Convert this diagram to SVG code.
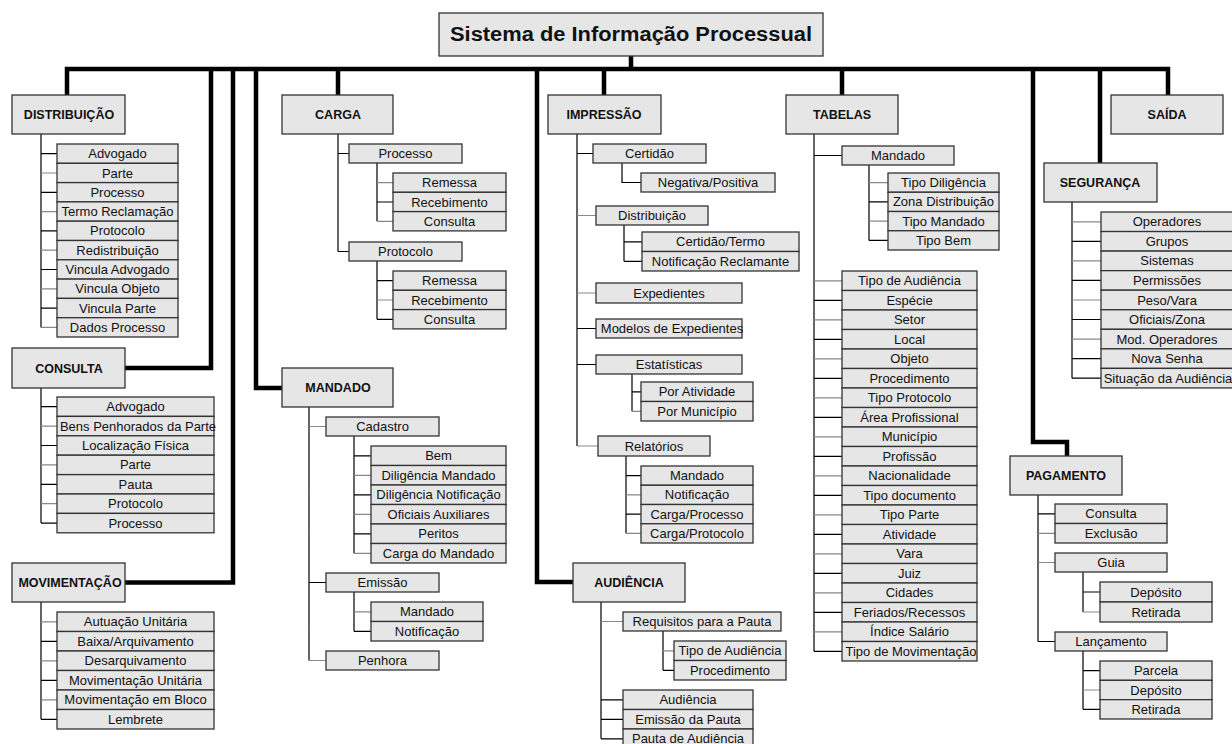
<svg xmlns="http://www.w3.org/2000/svg" width="1232" height="744" viewBox="0 0 1232 744">
<style>
  .bg{fill:#fff}
  rect.b{fill:#e6e6e6;stroke:#333;stroke-width:1.3}
  .h{font-family:"Liberation Sans",Arial,sans-serif;font-weight:bold;font-size:12.5px;text-anchor:middle;fill:#111}
  .t{font-family:"Liberation Sans",Arial,sans-serif;font-size:13px;text-anchor:middle;fill:#111}
  .title{font-family:"Liberation Sans",Arial,sans-serif;font-weight:bold;font-size:20px;text-anchor:middle;fill:#111}
  .bus{fill:none;stroke:#000;stroke-width:4.5;stroke-linejoin:miter}
  .lk{fill:none;stroke:#000;stroke-width:1.2}
  .lg{fill:none;stroke:#888;stroke-width:1.2}
</style>
<rect class="bg" x="0" y="0" width="1232" height="744"/>

<!-- connectors -->
<g id="connectors">
  <path class="bus" d="M631,56V69 M67,95V69H1168V95 M211,69V368H125 M233,69V582.5H125 M256,69V388H282 M338,69V95 M537,69V582H573 M604,69V95 M842,69V95 M1033,69V442H1067V456 M1100,69V163"/>
  <path class="lk" d="
    M41,134V327.4 M41,153.7H57 M41,192.3H57 M41,230.9H57 M41,269.5H57 M41,308.1H57
    M41,388V523.1 M41,406.7H57 M41,445.5H57 M41,484.3H57 M41,523.1H57
    M41,602V719.3 M41,641.3H57 M41,680.3H57 M41,719.3H57
    M338,134V251.5 M338,153.5H349 M338,251.5H349
    M377,163V221.3 M377,202H393
    M377,261V319.3 M377,280.7H393 M377,319.3H393
    M309,407V660.5 M309,582.5H326
    M354,436V553.3 M354,455.8H371 M354,494.8H371 M354,533.8H371
    M354,592V631.3 M354,631.3H371
    M577,134V446 M577,153.5H593 M577,328.5H596 M577,364.5H596
    M622,163V182.5H641
    M624,225V261.3 M624,241.8H642 M624,261.3H642
    M632,374V411.3 M632,391.8H641
    M626,456V533.4 M626,475.6H641 M626,514.1H641
    M601,602V738.8 M601,699.8H623 M601,719.3H623 M601,738.8H623
    M663,631V670.3 M663,670.3H674
    M814,134V651.3 M814,155.5H842 M814,300.3H842 M814,339.3H842 M814,378.3H842 M814,417.3H842 M814,456.3H842 M814,495.3H842 M814,534.3H842 M814,573.3H842 M814,612.3H842 M814,651.3H842
    M869,165V240.4 M869,201.9H888 M869,240.4H888
    M1072,202V378.2 M1072,241.3H1101 M1072,280.4H1101 M1072,319.5H1101 M1072,358.6H1101 M1072,378.2H1101
    M1038,495V641.5 M1038,513.8H1055 M1038,641.5H1055
    M1083,572V612 M1083,592H1100
    M1083,651V709.3 M1083,670.7H1100 M1083,709.3H1100"/>
  <path class="lg" d="
    M41,173H57 M41,211.6H57 M41,250.2H57 M41,288.8H57 M41,327.4H57
    M41,426.1H57 M41,464.9H57 M41,503.7H57
    M41,621.8H57 M41,660.8H57 M41,699.8H57
    M377,182.7H393 M377,221.3H393
    M377,300H393
    M309,426.5H326 M309,660.5H326
    M354,475.3H371 M354,514.3H371 M354,553.3H371
    M354,611.8H371
    M577,215.5H596 M577,293H596 M577,446H598
    M632,411.3H641
    M626,494.9H641 M626,533.4H641
    M601,621.5H623
    M663,650.8H674
    M814,280.8H842 M814,319.8H842 M814,358.8H842 M814,397.8H842 M814,436.8H842 M814,475.8H842 M814,514.8H842 M814,553.8H842 M814,592.8H842 M814,631.8H842
    M869,182.6H888 M869,221.1H888
    M1072,221.8H1101 M1072,260.9H1101 M1072,300H1101 M1072,339.1H1101
    M1038,533.3H1055 M1038,562.5H1055
    M1083,612H1100
    M1083,690H1100"/>
</g>

<!-- root -->
<g id="n-root"><rect class="b" x="439" y="13" width="384" height="43"/><text class="title" x="631" y="41" textLength="362" lengthAdjust="spacingAndGlyphs">Sistema de Informação Processual</text></g>

<!-- top-level modules -->
<g id="n-distribuicao"><rect class="b" x="12" y="95" width="113" height="39"/><text class="h" x="69" y="119">DISTRIBUIÇÃO</text></g>
<g id="n-consulta"><rect class="b" x="12" y="348" width="113" height="40"/><text class="h" x="69" y="372.5">CONSULTA</text></g>
<g id="n-movimentacao"><rect class="b" x="12" y="563" width="113" height="39"/><text class="h" x="70" y="587">MOVIMENTAÇÃO</text></g>
<g id="n-carga"><rect class="b" x="282" y="95" width="111" height="39"/><text class="h" x="338" y="119">CARGA</text></g>
<g id="n-mandado"><rect class="b" x="282" y="368" width="111" height="39"/><text class="h" x="338" y="392">MANDADO</text></g>
<g id="n-impressao"><rect class="b" x="548" y="95" width="113" height="39"/><text class="h" x="604" y="119">IMPRESSÃO</text></g>
<g id="n-audiencia"><rect class="b" x="573" y="563" width="112" height="39"/><text class="h" x="629" y="587">AUDIÊNCIA</text></g>
<g id="n-tabelas"><rect class="b" x="786" y="95" width="112" height="39"/><text class="h" x="842" y="119">TABELAS</text></g>
<g id="n-seguranca"><rect class="b" x="1044" y="163" width="113" height="39"/><text class="h" x="1100" y="187">SEGURANÇA</text></g>
<g id="n-saida"><rect class="b" x="1111" y="95" width="112" height="39"/><text class="h" x="1167" y="119">SAÍDA</text></g>
<g id="n-pagamento"><rect class="b" x="1010" y="456" width="112" height="39"/><text class="h" x="1066" y="480">PAGAMENTO</text></g>

<!-- DISTRIBUIÇÃO items -->
<g id="n-dist-advogado"><rect class="b" x="57" y="144" width="121" height="19.3"/><text class="t" x="117.5" y="158.2">Advogado</text></g>
<g id="n-dist-parte"><rect class="b" x="57" y="163.3" width="121" height="19.3"/><text class="t" x="117.5" y="177.5">Parte</text></g>
<g id="n-dist-processo"><rect class="b" x="57" y="182.6" width="121" height="19.3"/><text class="t" x="117.5" y="196.8">Processo</text></g>
<g id="n-dist-termo"><rect class="b" x="57" y="201.9" width="121" height="19.3"/><text class="t" x="117.5" y="216.1">Termo Reclamação</text></g>
<g id="n-dist-protocolo"><rect class="b" x="57" y="221.2" width="121" height="19.3"/><text class="t" x="117.5" y="235.4">Protocolo</text></g>
<g id="n-dist-redistribuicao"><rect class="b" x="57" y="240.5" width="121" height="19.3"/><text class="t" x="117.5" y="254.7">Redistribuição</text></g>
<g id="n-dist-vinc-advogado"><rect class="b" x="57" y="259.8" width="121" height="19.3"/><text class="t" x="117.5" y="274">Vincula Advogado</text></g>
<g id="n-dist-vinc-objeto"><rect class="b" x="57" y="279.1" width="121" height="19.3"/><text class="t" x="117.5" y="293.3">Vincula Objeto</text></g>
<g id="n-dist-vinc-parte"><rect class="b" x="57" y="298.4" width="121" height="19.3"/><text class="t" x="117.5" y="312.6">Vincula Parte</text></g>
<g id="n-dist-dados"><rect class="b" x="57" y="317.7" width="121" height="19.3"/><text class="t" x="117.5" y="331.9">Dados Processo</text></g>

<!-- CONSULTA items -->
<g id="n-cons-advogado"><rect class="b" x="57" y="397" width="157" height="19.4"/><text class="t" x="135.5" y="411.2">Advogado</text></g>
<g id="n-cons-bens"><rect class="b" x="57" y="416.4" width="157" height="19.4"/><text class="t" x="138" y="430.6">Bens Penhorados da Parte</text></g>
<g id="n-cons-localizacao"><rect class="b" x="57" y="435.8" width="157" height="19.4"/><text class="t" x="135.5" y="450">Localização Física</text></g>
<g id="n-cons-parte"><rect class="b" x="57" y="455.2" width="157" height="19.4"/><text class="t" x="135.5" y="469.4">Parte</text></g>
<g id="n-cons-pauta"><rect class="b" x="57" y="474.6" width="157" height="19.4"/><text class="t" x="135.5" y="488.8">Pauta</text></g>
<g id="n-cons-protocolo"><rect class="b" x="57" y="494" width="157" height="19.4"/><text class="t" x="135.5" y="508.2">Protocolo</text></g>
<g id="n-cons-processo"><rect class="b" x="57" y="513.4" width="157" height="19.4"/><text class="t" x="135.5" y="527.6">Processo</text></g>

<!-- MOVIMENTAÇÃO items -->
<g id="n-mov-autuacao"><rect class="b" x="57" y="612" width="157" height="19.5"/><text class="t" x="135.5" y="626.3">Autuação Unitária</text></g>
<g id="n-mov-baixa"><rect class="b" x="57" y="631.5" width="157" height="19.5"/><text class="t" x="135.5" y="645.8">Baixa/Arquivamento</text></g>
<g id="n-mov-desarq"><rect class="b" x="57" y="651" width="157" height="19.5"/><text class="t" x="135.5" y="665.3">Desarquivamento</text></g>
<g id="n-mov-unitaria"><rect class="b" x="57" y="670.5" width="157" height="19.5"/><text class="t" x="135.5" y="684.8">Movimentação Unitária</text></g>
<g id="n-mov-bloco"><rect class="b" x="57" y="690" width="157" height="19.5"/><text class="t" x="135.5" y="704.3">Movimentação em Bloco</text></g>
<g id="n-mov-lembrete"><rect class="b" x="57" y="709.5" width="157" height="19.5"/><text class="t" x="135.5" y="723.8">Lembrete</text></g>

<!-- CARGA items -->
<g id="n-carga-processo"><rect class="b" x="349" y="144" width="113" height="19"/><text class="t" x="405.5" y="158">Processo</text></g>
<g id="n-carga-proc-remessa"><rect class="b" x="393" y="173" width="113" height="19.3"/><text class="t" x="449.5" y="187.2">Remessa</text></g>
<g id="n-carga-proc-recebimento"><rect class="b" x="393" y="192.3" width="113" height="19.3"/><text class="t" x="449.5" y="206.5">Recebimento</text></g>
<g id="n-carga-proc-consulta"><rect class="b" x="393" y="211.6" width="113" height="19.3"/><text class="t" x="449.5" y="225.8">Consulta</text></g>
<g id="n-carga-protocolo"><rect class="b" x="349" y="242" width="113" height="19"/><text class="t" x="405.5" y="256">Protocolo</text></g>
<g id="n-carga-prot-remessa"><rect class="b" x="393" y="271" width="113" height="19.3"/><text class="t" x="449.5" y="285.2">Remessa</text></g>
<g id="n-carga-prot-recebimento"><rect class="b" x="393" y="290.3" width="113" height="19.3"/><text class="t" x="449.5" y="304.5">Recebimento</text></g>
<g id="n-carga-prot-consulta"><rect class="b" x="393" y="309.6" width="113" height="19.3"/><text class="t" x="449.5" y="323.8">Consulta</text></g>

<!-- MANDADO items -->
<g id="n-mand-cadastro"><rect class="b" x="326" y="417" width="113" height="19"/><text class="t" x="382.5" y="431">Cadastro</text></g>
<g id="n-mand-cad-bem"><rect class="b" x="371" y="446" width="135" height="19.5"/><text class="t" x="438.5" y="460.3">Bem</text></g>
<g id="n-mand-cad-dilig-mand"><rect class="b" x="371" y="465.5" width="135" height="19.5"/><text class="t" x="438.5" y="479.8">Diligência Mandado</text></g>
<g id="n-mand-cad-dilig-notif"><rect class="b" x="371" y="485" width="135" height="19.5"/><text class="t" x="438.5" y="499.3">Diligência Notificação</text></g>
<g id="n-mand-cad-oficiais"><rect class="b" x="371" y="504.5" width="135" height="19.5"/><text class="t" x="438.5" y="518.8">Oficiais Auxiliares</text></g>
<g id="n-mand-cad-peritos"><rect class="b" x="371" y="524" width="135" height="19.5"/><text class="t" x="438.5" y="538.3">Peritos</text></g>
<g id="n-mand-cad-carga"><rect class="b" x="371" y="543.5" width="135" height="19.5"/><text class="t" x="438.5" y="557.8">Carga do Mandado</text></g>
<g id="n-mand-emissao"><rect class="b" x="326" y="573" width="113" height="19"/><text class="t" x="382.5" y="587">Emissão</text></g>
<g id="n-mand-em-mandado"><rect class="b" x="371" y="602" width="112" height="19.5"/><text class="t" x="427" y="616.3">Mandado</text></g>
<g id="n-mand-em-notificacao"><rect class="b" x="371" y="621.5" width="112" height="19.5"/><text class="t" x="427" y="635.8">Notificação</text></g>
<g id="n-mand-penhora"><rect class="b" x="326" y="651" width="113" height="19"/><text class="t" x="382.5" y="665">Penhora</text></g>

<!-- IMPRESSÃO items -->
<g id="n-imp-certidao"><rect class="b" x="593" y="144" width="113" height="19"/><text class="t" x="649.5" y="158">Certidão</text></g>
<g id="n-imp-negativa"><rect class="b" x="641" y="173" width="134" height="19"/><text class="t" x="708" y="187">Negativa/Positiva</text></g>
<g id="n-imp-distribuicao"><rect class="b" x="596" y="206" width="112" height="19"/><text class="t" x="652" y="220">Distribuição</text></g>
<g id="n-imp-certidao-termo"><rect class="b" x="642" y="232" width="157" height="19.5"/><text class="t" x="720.5" y="246.3">Certidão/Termo</text></g>
<g id="n-imp-notif-reclamante"><rect class="b" x="642" y="251.5" width="157" height="19.5"/><text class="t" x="720.5" y="265.8">Notificação Reclamante</text></g>
<g id="n-imp-expedientes"><rect class="b" x="596" y="283" width="146" height="20"/><text class="t" x="669" y="297.5">Expedientes</text></g>
<g id="n-imp-modelos"><rect class="b" x="596" y="319" width="146" height="19"/><text class="t" x="672" y="333">Modelos de Expedientes</text></g>
<g id="n-imp-estatisticas"><rect class="b" x="596" y="355" width="146" height="19"/><text class="t" x="669" y="369">Estatísticas</text></g>
<g id="n-imp-por-atividade"><rect class="b" x="641" y="382" width="112" height="19.5"/><text class="t" x="697" y="396.3">Por Atividade</text></g>
<g id="n-imp-por-municipio"><rect class="b" x="641" y="401.5" width="112" height="19.5"/><text class="t" x="697" y="415.8">Por Município</text></g>
<g id="n-imp-relatorios"><rect class="b" x="598" y="436" width="112" height="20"/><text class="t" x="654" y="450.5">Relatórios</text></g>
<g id="n-imp-rel-mandado"><rect class="b" x="641" y="466" width="112" height="19.25"/><text class="t" x="697" y="480.1">Mandado</text></g>
<g id="n-imp-rel-notificacao"><rect class="b" x="641" y="485.25" width="112" height="19.25"/><text class="t" x="697" y="499.4">Notificação</text></g>
<g id="n-imp-rel-carga-proc"><rect class="b" x="641" y="504.5" width="112" height="19.25"/><text class="t" x="697" y="518.6">Carga/Processo</text></g>
<g id="n-imp-rel-carga-prot"><rect class="b" x="641" y="523.75" width="112" height="19.25"/><text class="t" x="697" y="537.9">Carga/Protocolo</text></g>

<!-- AUDIÊNCIA items -->
<g id="n-aud-requisitos"><rect class="b" x="623" y="612" width="158" height="19"/><text class="t" x="702" y="626">Requisitos para a Pauta</text></g>
<g id="n-aud-req-tipo"><rect class="b" x="674" y="641" width="112" height="19.5"/><text class="t" x="730" y="655.3">Tipo de Audiência</text></g>
<g id="n-aud-req-procedimento"><rect class="b" x="674" y="660.5" width="112" height="19.5"/><text class="t" x="730" y="674.8">Procedimento</text></g>
<g id="n-aud-audiencia"><rect class="b" x="623" y="690" width="130" height="19.5"/><text class="t" x="688" y="704.3">Audiência</text></g>
<g id="n-aud-emissao"><rect class="b" x="623" y="709.5" width="130" height="19.5"/><text class="t" x="688" y="723.8">Emissão da Pauta</text></g>
<g id="n-aud-pauta"><rect class="b" x="623" y="729" width="130" height="19.5"/><text class="t" x="688" y="742.8">Pauta de Audiência</text></g>

<!-- TABELAS items -->
<g id="n-tab-mandado"><rect class="b" x="842" y="146" width="112" height="19"/><text class="t" x="898" y="160">Mandado</text></g>
<g id="n-tab-m-diligencia"><rect class="b" x="888" y="173" width="111" height="19.25"/><text class="t" x="943.5" y="187.1">Tipo Diligência</text></g>
<g id="n-tab-m-zona"><rect class="b" x="888" y="192.25" width="111" height="19.25"/><text class="t" x="943.5" y="206.4">Zona Distribuição</text></g>
<g id="n-tab-m-tipo-mandado"><rect class="b" x="888" y="211.5" width="111" height="19.25"/><text class="t" x="943.5" y="225.6">Tipo Mandado</text></g>
<g id="n-tab-m-tipo-bem"><rect class="b" x="888" y="230.75" width="111" height="19.25"/><text class="t" x="943.5" y="244.9">Tipo Bem</text></g>
<g id="n-tab-tipo-audiencia"><rect class="b" x="842" y="271" width="135" height="19.5"/><text class="t" x="909.5" y="285.3">Tipo de Audiência</text></g>
<g id="n-tab-especie"><rect class="b" x="842" y="290.5" width="135" height="19.5"/><text class="t" x="909.5" y="304.8">Espécie</text></g>
<g id="n-tab-setor"><rect class="b" x="842" y="310" width="135" height="19.5"/><text class="t" x="909.5" y="324.3">Setor</text></g>
<g id="n-tab-local"><rect class="b" x="842" y="329.5" width="135" height="19.5"/><text class="t" x="909.5" y="343.8">Local</text></g>
<g id="n-tab-objeto"><rect class="b" x="842" y="349" width="135" height="19.5"/><text class="t" x="909.5" y="363.3">Objeto</text></g>
<g id="n-tab-procedimento"><rect class="b" x="842" y="368.5" width="135" height="19.5"/><text class="t" x="909.5" y="382.8">Procedimento</text></g>
<g id="n-tab-tipo-protocolo"><rect class="b" x="842" y="388" width="135" height="19.5"/><text class="t" x="909.5" y="402.3">Tipo Protocolo</text></g>
<g id="n-tab-area"><rect class="b" x="842" y="407.5" width="135" height="19.5"/><text class="t" x="909.5" y="421.8">Área Profissional</text></g>
<g id="n-tab-municipio"><rect class="b" x="842" y="427" width="135" height="19.5"/><text class="t" x="909.5" y="441.3">Município</text></g>
<g id="n-tab-profissao"><rect class="b" x="842" y="446.5" width="135" height="19.5"/><text class="t" x="909.5" y="460.8">Profissão</text></g>
<g id="n-tab-nacionalidade"><rect class="b" x="842" y="466" width="135" height="19.5"/><text class="t" x="909.5" y="480.3">Nacionalidade</text></g>
<g id="n-tab-tipo-documento"><rect class="b" x="842" y="485.5" width="135" height="19.5"/><text class="t" x="909.5" y="499.8">Tipo documento</text></g>
<g id="n-tab-tipo-parte"><rect class="b" x="842" y="505" width="135" height="19.5"/><text class="t" x="909.5" y="519.3">Tipo Parte</text></g>
<g id="n-tab-atividade"><rect class="b" x="842" y="524.5" width="135" height="19.5"/><text class="t" x="909.5" y="538.8">Atividade</text></g>
<g id="n-tab-vara"><rect class="b" x="842" y="544" width="135" height="19.5"/><text class="t" x="909.5" y="558.3">Vara</text></g>
<g id="n-tab-juiz"><rect class="b" x="842" y="563.5" width="135" height="19.5"/><text class="t" x="909.5" y="577.8">Juiz</text></g>
<g id="n-tab-cidades"><rect class="b" x="842" y="583" width="135" height="19.5"/><text class="t" x="909.5" y="597.3">Cidades</text></g>
<g id="n-tab-feriados"><rect class="b" x="842" y="602.5" width="135" height="19.5"/><text class="t" x="909.5" y="616.8">Feriados/Recessos</text></g>
<g id="n-tab-indice"><rect class="b" x="842" y="622" width="135" height="19.5"/><text class="t" x="909.5" y="636.3">Índice Salário</text></g>
<g id="n-tab-tipo-mov"><rect class="b" x="842" y="641.5" width="135" height="19.5"/><text class="t" x="911" y="655.8">Tipo de Movimentação</text></g>

<!-- SEGURANÇA items -->
<g id="n-seg-operadores"><rect class="b" x="1101" y="212" width="132" height="19.55"/><text class="t" x="1167" y="226.3">Operadores</text></g>
<g id="n-seg-grupos"><rect class="b" x="1101" y="231.55" width="132" height="19.55"/><text class="t" x="1167" y="245.8">Grupos</text></g>
<g id="n-seg-sistemas"><rect class="b" x="1101" y="251.1" width="132" height="19.55"/><text class="t" x="1167" y="265.4">Sistemas</text></g>
<g id="n-seg-permissoes"><rect class="b" x="1101" y="270.65" width="132" height="19.55"/><text class="t" x="1167" y="284.9">Permissões</text></g>
<g id="n-seg-peso-vara"><rect class="b" x="1101" y="290.2" width="132" height="19.55"/><text class="t" x="1167" y="304.5">Peso/Vara</text></g>
<g id="n-seg-oficiais"><rect class="b" x="1101" y="309.75" width="132" height="19.55"/><text class="t" x="1167" y="324">Oficiais/Zona</text></g>
<g id="n-seg-mod-operadores"><rect class="b" x="1101" y="329.3" width="132" height="19.55"/><text class="t" x="1167" y="343.6">Mod. Operadores</text></g>
<g id="n-seg-nova-senha"><rect class="b" x="1101" y="348.85" width="132" height="19.55"/><text class="t" x="1167" y="363.1">Nova Senha</text></g>
<g id="n-seg-situacao"><rect class="b" x="1101" y="368.4" width="132" height="19.55"/><text class="t" x="1168" y="382.7">Situação da Audiência</text></g>

<!-- PAGAMENTO items -->
<g id="n-pag-consulta"><rect class="b" x="1055" y="504" width="112" height="19.5"/><text class="t" x="1111" y="518.3">Consulta</text></g>
<g id="n-pag-exclusao"><rect class="b" x="1055" y="523.5" width="112" height="19.5"/><text class="t" x="1111" y="537.8">Exclusão</text></g>
<g id="n-pag-guia"><rect class="b" x="1055" y="553" width="112" height="19"/><text class="t" x="1111" y="567">Guia</text></g>
<g id="n-pag-guia-deposito"><rect class="b" x="1100" y="582" width="112" height="20"/><text class="t" x="1156" y="596.5">Depósito</text></g>
<g id="n-pag-guia-retirada"><rect class="b" x="1100" y="602" width="112" height="20"/><text class="t" x="1156" y="616.5">Retirada</text></g>
<g id="n-pag-lancamento"><rect class="b" x="1055" y="632" width="112" height="19"/><text class="t" x="1111" y="646">Lançamento</text></g>
<g id="n-pag-lanc-parcela"><rect class="b" x="1100" y="661" width="112" height="19.33"/><text class="t" x="1156" y="675.2">Parcela</text></g>
<g id="n-pag-lanc-deposito"><rect class="b" x="1100" y="680.33" width="112" height="19.33"/><text class="t" x="1156" y="694.5">Depósito</text></g>
<g id="n-pag-lanc-retirada"><rect class="b" x="1100" y="699.67" width="112" height="19.33"/><text class="t" x="1156" y="713.8">Retirada</text></g>
</svg>
